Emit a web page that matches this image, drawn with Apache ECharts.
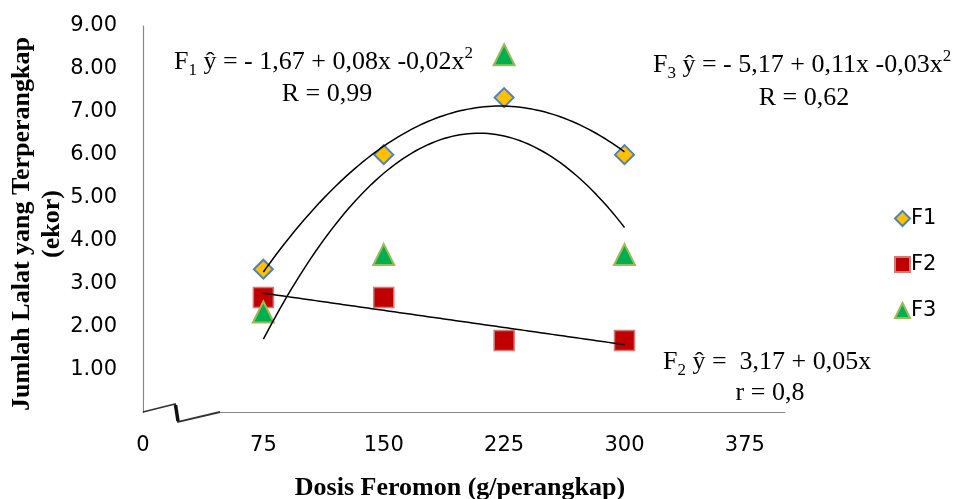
<!DOCTYPE html>
<html>
<head>
<meta charset="utf-8">
<script src="https://cdn.jsdelivr.net/npm/echarts@6/dist/echarts.min.js"></script>
<style>
  html,body{margin:0;padding:0;background:#fff}
  #main{width:960px;height:499px}
</style>
</head>
<body>
<div id="main"></div>
<script>
// ---------- 数据 ----------
const doses = [75, 150, 225, 300];
const f1 = [3.33, 6.00, 7.33, 6.00];
const f2 = [2.67, 2.67, 1.67, 1.67];
const f3 = [2.33, 3.67, 8.33, 3.67];
const xTicks = [0, 75, 150, 225, 300, 375];

// ---------- 趋势线（最小二乘拟合，同 Excel trendline） ----------
function polyFit(xs, ys, deg){
  const n = deg + 1;
  const A = [], b = [];
  for(let i=0;i<n;i++){
    A.push([]);
    for(let j=0;j<n;j++) A[i].push(xs.reduce((s,x)=>s+Math.pow(x,i+j),0));
    b.push(xs.reduce((s,x,k)=>s+Math.pow(x,i)*ys[k],0));
  }
  // 高斯消元
  for(let c=0;c<n;c++){
    for(let r=c+1;r<n;r++){
      const f = A[r][c]/A[c][c];
      for(let k=c;k<n;k++) A[r][k]-=f*A[c][k];
      b[r]-=f*b[c];
    }
  }
  const coef = new Array(n).fill(0);
  for(let r=n-1;r>=0;r--){
    let s=b[r];
    for(let k=r+1;k<n;k++) s-=A[r][k]*coef[k];
    coef[r]=s/A[r][r];
  }
  return coef;
}
function trend(ys, deg){
  const c = polyFit(doses, ys, deg);
  const out = [];
  for(let x=doses[0]; x<=doses[doses.length-1]+0.01; x+=2.5){
    out.push([x, c.reduce((s,v,i)=>s+v*Math.pow(x,i),0)]);
  }
  return out;
}
const pairs = ys => doses.map((x,i)=>[x, ys[i]]);

// ---------- 图表 ----------
const chart = echarts.init(document.getElementById('main'));
const G = {left:143, right:175, top:26, bottom:87};
const serif = '"Liberation Serif","DejaVu Serif",serif';
const sans = '"DejaVu Sans",sans-serif';
const axisGrey = '#878787';

const trendLine = {type:'line', showSymbol:false, symbol:'none', silent:true, z:5,
  lineStyle:{color:'#000', width:1.5}, itemStyle:{color:'#000'}};

const eqRich = {
  b:{fontFamily:serif, fontSize:26, fill:'#000'},
  sub:{fontFamily:serif, fontSize:17, fill:'#000', verticalAlign:'bottom', padding:[17,0,0,0]},
  sup:{fontFamily:serif, fontSize:17, fill:'#000', verticalAlign:'top', padding:[0,0,10,0]}
};
function eqText(x, y, str){
  return {type:'text', x, y, z:10, style:{text:str, rich:eqRich, fontFamily:serif, fontSize:26, fill:'#000',
    align:'left', verticalAlign:'middle'}};
}
function plainText(x, y, str){
  return {type:'text', x, y, z:10, style:{text:str, fontFamily:serif, fontSize:26, fill:'#000', align:'center', verticalAlign:'middle'}};
}

chart.setOption({
  animation:false,
  backgroundColor:'#fff',
  grid:G,
  legend:{
    orient:'vertical', left:889, top:203, itemGap:25, itemWidth:15, itemHeight:15,
    data:['F1','F2','F3'],
    textStyle:{fontFamily:sans, fontSize:21, color:'#000', padding:[0,0,0,-4]}
  },
  xAxis:{
    type:'value', min:0, max:400, interval:75,
    axisLine:{show:true, lineStyle:{color:axisGrey, width:1.2}},
    axisTick:{show:false}, splitLine:{show:false},
    axisLabel:{fontFamily:sans, fontSize:21, color:'#000', margin:23,
      formatter:v=>xTicks.indexOf(v)>=0 ? String(v) : ''}
  },
  yAxis:{
    type:'value', min:0, max:9, interval:1,
    axisLine:{show:true, lineStyle:{color:axisGrey, width:1.2}},
    axisTick:{show:false}, splitLine:{show:false},
    axisLabel:{fontFamily:sans, fontSize:21, color:'#000', margin:26,
      formatter:v=>v===0 ? '' : v.toFixed(2)}
  },
  series:[
    Object.assign({name:'F1 trend', data:trend(f1,2)}, trendLine),
    Object.assign({name:'F2 trend', data:trend(f2,1)}, trendLine),
    Object.assign({name:'F3 trend', data:trend(f3,2)}, trendLine),
    {name:'F1', type:'scatter', data:pairs(f1), symbol:'diamond', symbolSize:19, z:4,
      itemStyle:{color:'#FFC000', borderColor:'#4F81BD', borderWidth:2, opacity:1}},
    {name:'F2', type:'scatter', data:pairs(f2), symbol:'rect', symbolSize:20, z:3,
      itemStyle:{color:'#C00000', borderColor:'#D27A78', borderWidth:1.5, opacity:1}},
    {name:'F3', type:'scatter', data:pairs(f3), symbol:'triangle', symbolSize:21, z:3,
      itemStyle:{color:'#00B050', borderColor:'#9BBB59', borderWidth:2, opacity:1}}
  ],
  graphic:[
    // 轴标题
    {type:'text', x:37, y:224, rotation:Math.PI/2, z:10,
      style:{text:'Jumlah Lalat yang Terperangkap\n(ekor)', fontFamily:serif, fontSize:26, fontWeight:'bold',
        fill:'#000', align:'center', verticalAlign:'middle', lineHeight:30}},
    {type:'text', x:460, y:488, z:10,
      style:{text:'Dosis Feromon (g/perangkap)', fontFamily:serif, fontSize:26, fontWeight:'bold',
        fill:'#000', align:'center', verticalAlign:'middle'}},
    // 回归方程
    eqText(174, 62, '{b|F}{sub|1}{b| ŷ = - 1,67 + 0,08x -0,02x}{sup|2}'),
    plainText(327, 94, 'R = 0,99'),
    eqText(653, 65, '{b|F}{sub|3}{b| ŷ = - 5,17 + 0,11x -0,03x}{sup|2}'),
    plainText(804, 98, 'R = 0,62'),
    eqText(663, 362, '{b|F}{sub|2}{b| ŷ =  3,17 + 0,05x}'),
    plainText(770, 393, 'r = 0,8'),
    // 轴断开符号
    {type:'rect', z:8, shape:{x:144, y:400, width:75, height:30}, style:{fill:'#fff'}},
    {type:'polyline', z:9, shape:{points:[[143,412],[175,404],[178,422],[220,412]]},
      style:{stroke:'#333', lineWidth:1.8, fill:null}},
    {type:'line', z:9, shape:{x1:175.5, y1:405, x2:178, y2:421}, style:{stroke:'#111', lineWidth:3.5}}
  ]
});
</script>
</body>
</html>
